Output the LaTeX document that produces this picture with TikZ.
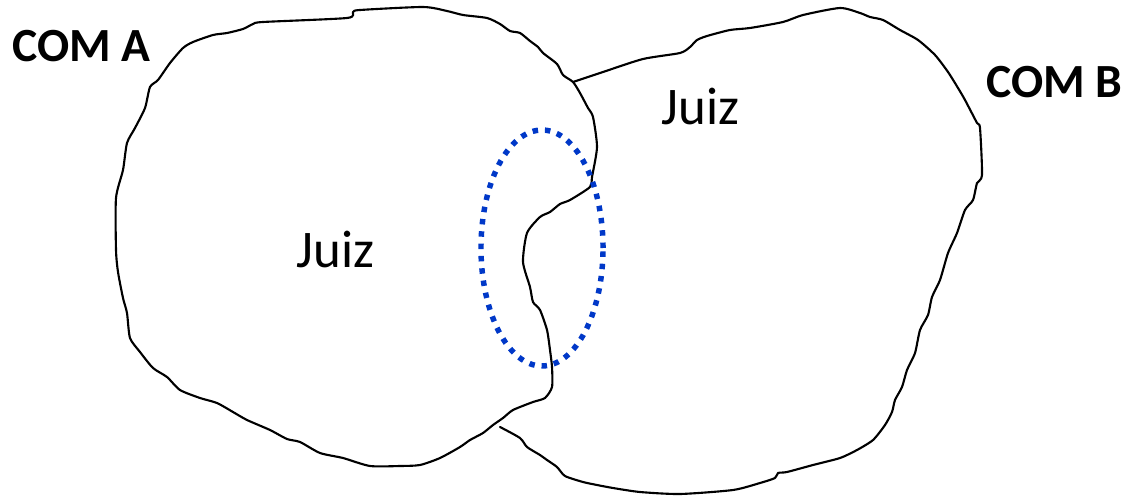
\documentclass[tikz,border=0pt]{standalone}
\usepackage{fontspec}
\setmainfont{Carlito}
\usetikzlibrary{positioning}
\definecolor{zoneblue}{RGB}{0,56,200}

\begin{document}
\begin{tikzpicture}[
    x=0.567pt, y=-0.567pt, line cap=round, line join=round,
    border/.style  ={draw=black, line width=1.2pt},
    overlap/.style ={draw=zoneblue, line width=3.1pt, line cap=butt, dash pattern=on 3.1pt off 3.9pt},
    comlab/.style  ={font=\fontsize{27}{28}\selectfont\bfseries, anchor=base west, inner sep=0pt},
    juizlab/.style ={font=\fontsize{30}{31}\selectfont, anchor=base west, inner sep=0pt}
]
\useasboundingbox (0,0) rectangle (1125,496);

% COM A outline (closed)
\draw[border] plot[smooth cycle, tension=0.4] coordinates {
  (116,250) (116,198) (123,170) (127,143) (135,128) (145,108) (150,87) (158,80)
  (170,63) (183,48) (193,42) (213,35) (227,33) (243,29) (253,24) (263,22)
  (347,18) (353,12) (360,10) (423,7) (447,11) (463,15) (487,18) (500,24)
  (510,31) (520,33) (530,41) (538,47) (543,53) (557,64) (563,75) (573,82)
  (580,93) (588,108) (593,117) (597,147) (592,177) (590,187) (570,200) (560,204)
  (550,212) (540,217) (527,233) (523,262) (530,287) (533,302) (540,310) (547,330)
  (550,350) (552,367) (552,387) (545,398) (533,402) (513,410) (503,418) (493,425)
  (483,433) (470,440) (460,447) (440,458) (420,465) (400,466) (370,466) (343,458)
  (320,453) (300,442) (287,439) (270,430) (247,420) (233,412) (217,403) (200,398)
  (180,390) (167,377) (153,368) (140,352) (130,338) (127,313) (123,298) (118,272)};

% COM B outline (open, leans on A)
\draw[border] plot[smooth, tension=0.4] coordinates {
  (573,82) (603,72) (643,59) (680,53) (690,47) (697,40) (707,36) (730,30)
  (750,28) (783,22) (803,15) (840,8) (860,13) (870,17) (883,20) (900,30)
  (918,40) (935,55) (948,72) (958,88) (965,100) (977,123) (980,128) (982,175)
  (977,183) (973,200) (965,210) (957,233) (948,253) (940,280) (932,297) (928,315)
  (920,330) (915,353) (907,370) (902,387) (895,400) (892,412) (885,425) (873,440)
  (857,450) (840,458) (813,465) (787,472) (778,473) (775,478) (760,483) (733,490)
  (680,494) (640,492) (613,488) (597,485) (583,482) (565,476) (557,467) (547,460)
  (540,455) (527,447) (520,438) (500,427)};

% overlap zone
\draw[overlap] (542,248) ellipse [x radius=34.6pt, y radius=66.9pt];

% labels
\node[comlab]  (comA)  at (12,62)   {COM A};
\node[comlab]  (comB)  at (986,98)  {COM B};
\node[juizlab] (juizA) at (296,267) {Juiz};
\node[juizlab] (juizB) at (661,125) {Juiz};
\end{tikzpicture}
\end{document}
